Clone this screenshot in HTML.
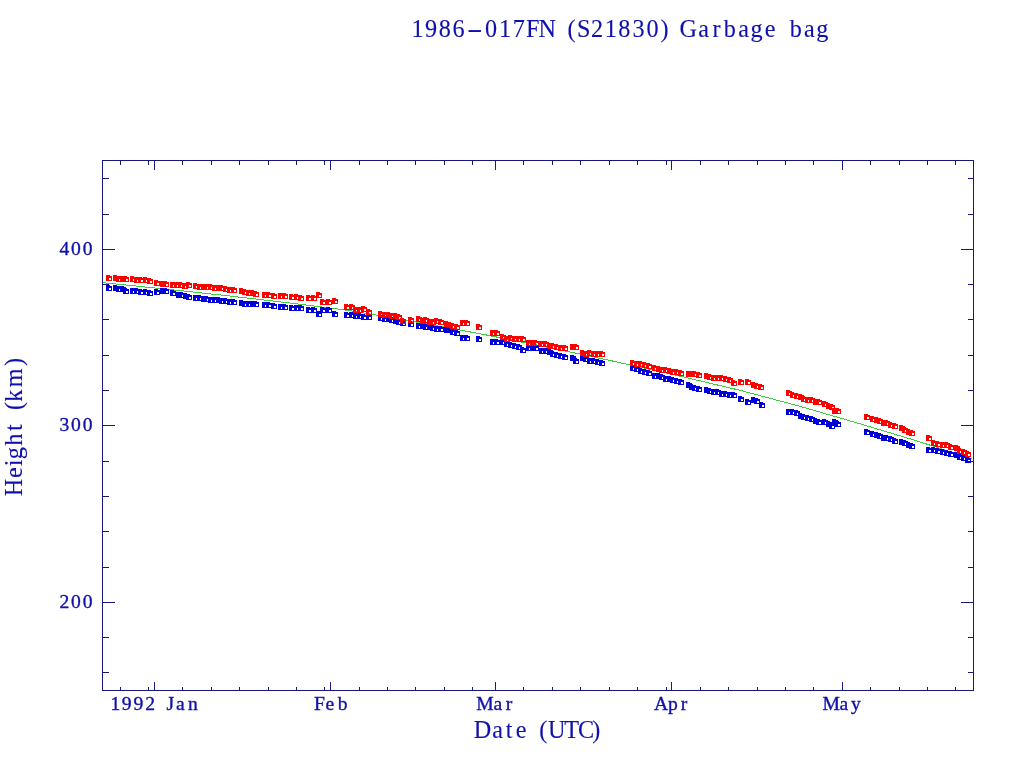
<!DOCTYPE html>
<html lang="en"><head><meta charset="utf-8"><title>1986-017FN (S21830) Garbage bag</title>
<style>html,body{margin:0;padding:0;background:#fff}svg{display:block}</style></head>
<body>
<svg width="1024" height="768" viewBox="0 0 1024 768">
<rect width="1024" height="768" fill="#fff"/>
<polyline shape-rendering="crispEdges" fill="none" stroke="#3ccd3c" stroke-width="1" points="102.0,282.6 165.0,289.0 228.0,295.8 290.0,303.0 344.0,309.8 373.5,314.5 430.0,324.5 484.0,334.5 548.0,347.3 612.0,360.9 676.0,375.2 740.0,390.3 800.0,406.3 860.0,423.8 916.0,440.6 972.0,458.8"/>
<path shape-rendering="crispEdges" fill="#0000d8" d="M106 285h4v1h2v5h-6zm3 3v2h2v-2zM113 285h4v1h2v5h-6zm3 3v2h2v-2zM116 286h4v1h2v5h-6zm3 3v2h2v-2zM120 286h4v1h2v5h-6zm3 3v2h2v-2zM123 288h4v1h2v5h-6zm3 3v2h2v-2zM130 288h4v1h2v5h-6zm3 3v2h2v-2zM134 288h4v1h2v5h-6zm3 3v2h2v-2zM138 289h4v1h2v5h-6zm3 3v2h2v-2zM143 289h4v1h2v5h-6zm3 3v2h2v-2zM147 290h4v1h2v5h-6zm3 3v2h2v-2zM154 289h4v1h2v5h-6zm3 3v2h2v-2zM160 288h4v1h2v5h-6zm3 3v2h2v-2zM163 288h4v1h2v5h-6zm3 3v2h2v-2zM170 290h4v1h2v5h-6zm3 3v2h2v-2zM176 292h4v1h2v5h-6zm3 3v2h2v-2zM179 292h4v1h2v5h-6zm3 3v2h2v-2zM183 293h4v1h2v5h-6zm3 3v2h2v-2zM186 294h4v1h2v5h-6zm3 3v2h2v-2zM193 295h4v1h2v5h-6zm3 3v2h2v-2zM197 295h4v1h2v5h-6zm3 3v2h2v-2zM201 296h4v1h2v5h-6zm3 3v2h2v-2zM204 296h4v1h2v5h-6zm3 3v2h2v-2zM208 297h4v1h2v5h-6zm3 3v2h2v-2zM212 297h4v1h2v5h-6zm3 3v2h2v-2zM216 297h4v1h2v5h-6zm3 3v2h2v-2zM219 298h4v1h2v5h-6zm3 3v2h2v-2zM223 298h4v1h2v5h-6zm3 3v2h2v-2zM227 299h4v1h2v5h-6zm3 3v2h2v-2zM231 299h4v1h2v5h-6zm3 3v2h2v-2zM239 300h4v1h2v5h-6zm3 3v2h2v-2zM242 301h4v1h2v5h-6zm3 3v2h2v-2zM246 301h4v1h2v5h-6zm3 3v2h2v-2zM250 301h4v1h2v5h-6zm3 3v2h2v-2zM253 301h4v1h2v5h-6zm3 3v2h2v-2zM262 302h4v1h2v5h-6zm3 3v2h2v-2zM266 302h4v1h2v5h-6zm3 3v2h2v-2zM271 303h4v1h2v5h-6zm3 3v2h2v-2zM278 304h4v1h2v5h-6zm3 3v2h2v-2zM282 304h4v1h2v5h-6zm3 3v2h2v-2zM289 305h4v1h2v5h-6zm3 3v2h2v-2zM294 305h4v1h2v5h-6zm3 3v2h2v-2zM298 305h4v1h2v5h-6zm3 3v2h2v-2zM306 307h4v1h2v5h-6zm3 3v2h2v-2zM311 307h4v1h2v5h-6zm3 3v2h2v-2zM316 311h4v1h2v5h-6zm3 3v2h2v-2zM320 307h4v1h2v5h-6zm3 3v2h2v-2zM326 307h4v1h2v5h-6zm3 3v2h2v-2zM332 311h4v1h2v5h-6zm3 3v2h2v-2zM344 312h4v1h2v5h-6zm3 3v2h2v-2zM349 312h4v1h2v5h-6zm3 3v2h2v-2zM353 313h4v1h2v5h-6zm3 3v2h2v-2zM357 313h4v1h2v5h-6zm3 3v2h2v-2zM361 314h4v1h2v5h-6zm3 3v2h2v-2zM366 314h4v1h2v5h-6zm3 3v2h2v-2zM378 315h4v1h2v5h-6zm3 3v2h2v-2zM382 316h4v1h2v5h-6zm3 3v2h2v-2zM386 316h4v1h2v5h-6zm3 3v2h2v-2zM389 317h4v1h2v5h-6zm3 3v2h2v-2zM393 318h4v1h2v5h-6zm3 3v2h2v-2zM396 319h4v1h2v5h-6zm3 3v2h2v-2zM400 320h4v1h2v5h-6zm3 3v2h2v-2zM408 321h4v1h2v5h-6zm3 3v2h2v-2zM416 323h4v1h2v5h-6zm3 3v2h2v-2zM420 323h4v1h2v5h-6zm3 3v2h2v-2zM423 324h4v1h2v5h-6zm3 3v2h2v-2zM427 324h4v1h2v5h-6zm3 3v2h2v-2zM430 325h4v1h2v5h-6zm3 3v2h2v-2zM434 326h4v1h2v5h-6zm3 3v2h2v-2zM438 326h4v1h2v5h-6zm3 3v2h2v-2zM444 327h4v1h2v5h-6zm3 3v2h2v-2zM447 327h4v1h2v5h-6zm3 3v2h2v-2zM450 329h4v1h2v5h-6zm3 3v2h2v-2zM454 330h4v1h2v5h-6zm3 3v2h2v-2zM460 335h4v1h2v5h-6zm3 3v2h2v-2zM464 335h4v1h2v5h-6zm3 3v2h2v-2zM476 336h4v1h2v5h-6zm3 3v2h2v-2zM490 339h4v1h2v5h-6zm3 3v2h2v-2zM494 339h4v1h2v5h-6zm3 3v2h2v-2zM500 339h4v1h2v5h-6zm3 3v2h2v-2zM504 341h4v1h2v5h-6zm3 3v2h2v-2zM508 342h4v1h2v5h-6zm3 3v2h2v-2zM512 343h4v1h2v5h-6zm3 3v2h2v-2zM516 344h4v1h2v5h-6zm3 3v2h2v-2zM520 347h4v1h2v5h-6zm3 3v2h2v-2zM526 345h4v1h2v5h-6zm3 3v2h2v-2zM530 345h4v1h2v5h-6zm3 3v2h2v-2zM533 345h4v1h2v5h-6zm3 3v2h2v-2zM539 348h4v1h2v5h-6zm3 3v2h2v-2zM543 348h4v1h2v5h-6zm3 3v2h2v-2zM547 349h4v1h2v5h-6zm3 3v2h2v-2zM550 351h4v1h2v5h-6zm3 3v2h2v-2zM554 352h4v1h2v5h-6zm3 3v2h2v-2zM558 353h4v1h2v5h-6zm3 3v2h2v-2zM562 354h4v1h2v5h-6zm3 3v2h2v-2zM570 355h4v1h2v5h-6zm3 3v2h2v-2zM573 358h4v1h2v5h-6zm3 3v2h2v-2zM580 355h4v1h2v5h-6zm3 3v2h2v-2zM583 356h4v1h2v5h-6zm3 3v2h2v-2zM587 358h4v1h2v5h-6zm3 3v2h2v-2zM591 358h4v1h2v5h-6zm3 3v2h2v-2zM595 359h4v1h2v5h-6zm3 3v2h2v-2zM599 360h4v1h2v5h-6zm3 3v2h2v-2zM630 365h4v1h2v5h-6zm3 3v2h2v-2zM634 366h4v1h2v5h-6zm3 3v2h2v-2zM638 368h4v1h2v5h-6zm3 3v2h2v-2zM642 369h4v1h2v5h-6zm3 3v2h2v-2zM646 370h4v1h2v5h-6zm3 3v2h2v-2zM652 373h4v1h2v5h-6zm3 3v2h2v-2zM656 373h4v1h2v5h-6zm3 3v2h2v-2zM659 374h4v1h2v5h-6zm3 3v2h2v-2zM663 376h4v1h2v5h-6zm3 3v2h2v-2zM667 376h4v1h2v5h-6zm3 3v2h2v-2zM670 377h4v1h2v5h-6zm3 3v2h2v-2zM674 378h4v1h2v5h-6zm3 3v2h2v-2zM678 379h4v1h2v5h-6zm3 3v2h2v-2zM686 382h4v1h2v5h-6zm3 3v2h2v-2zM689 384h4v1h2v5h-6zm3 3v2h2v-2zM692 385h4v1h2v5h-6zm3 3v2h2v-2zM696 386h4v1h2v5h-6zm3 3v2h2v-2zM704 387h4v1h2v5h-6zm3 3v2h2v-2zM707 388h4v1h2v5h-6zm3 3v2h2v-2zM711 389h4v1h2v5h-6zm3 3v2h2v-2zM715 389h4v1h2v5h-6zm3 3v2h2v-2zM719 391h4v1h2v5h-6zm3 3v2h2v-2zM723 391h4v1h2v5h-6zm3 3v2h2v-2zM727 392h4v1h2v5h-6zm3 3v2h2v-2zM731 392h4v1h2v5h-6zm3 3v2h2v-2zM738 396h4v1h2v5h-6zm3 3v2h2v-2zM745 399h4v1h2v5h-6zm3 3v2h2v-2zM751 397h4v1h2v5h-6zm3 3v2h2v-2zM754 398h4v1h2v5h-6zm3 3v2h2v-2zM759 402h4v1h2v5h-6zm3 3v2h2v-2zM786 409h4v1h2v5h-6zm3 3v2h2v-2zM790 409h4v1h2v5h-6zm3 3v2h2v-2zM794 410h4v1h2v5h-6zm3 3v2h2v-2zM798 413h4v1h2v5h-6zm3 3v2h2v-2zM801 414h4v1h2v5h-6zm3 3v2h2v-2zM805 415h4v1h2v5h-6zm3 3v2h2v-2zM809 416h4v1h2v5h-6zm3 3v2h2v-2zM813 418h4v1h2v5h-6zm3 3v2h2v-2zM816 419h4v1h2v5h-6zm3 3v2h2v-2zM822 419h4v1h2v5h-6zm3 3v2h2v-2zM826 421h4v1h2v5h-6zm3 3v2h2v-2zM829 423h4v1h2v5h-6zm3 3v2h2v-2zM832 419h4v1h2v5h-6zm3 3v2h2v-2zM835 421h4v1h2v5h-6zm3 3v2h2v-2zM864 429h4v1h2v5h-6zm3 3v2h2v-2zM870 431h4v1h2v5h-6zm3 3v2h2v-2zM874 432h4v1h2v5h-6zm3 3v2h2v-2zM877 433h4v1h2v5h-6zm3 3v2h2v-2zM881 435h4v1h2v5h-6zm3 3v2h2v-2zM884 435h4v1h2v5h-6zm3 3v2h2v-2zM888 436h4v1h2v5h-6zm3 3v2h2v-2zM892 438h4v1h2v5h-6zm3 3v2h2v-2zM899 439h4v1h2v5h-6zm3 3v2h2v-2zM902 440h4v1h2v5h-6zm3 3v2h2v-2zM906 442h4v1h2v5h-6zm3 3v2h2v-2zM909 443h4v1h2v5h-6zm3 3v2h2v-2zM926 447h4v1h2v5h-6zm3 3v2h2v-2zM931 447h4v1h2v5h-6zm3 3v2h2v-2zM935 448h4v1h2v5h-6zm3 3v2h2v-2zM940 449h4v1h2v5h-6zm3 3v2h2v-2zM944 450h4v1h2v5h-6zm3 3v2h2v-2zM948 451h4v1h2v5h-6zm3 3v2h2v-2zM954 452h4v1h2v5h-6zm3 3v2h2v-2zM957 454h4v1h2v5h-6zm3 3v2h2v-2zM961 455h4v1h2v5h-6zm3 3v2h2v-2zM965 457h4v1h2v5h-6zm3 3v2h2v-2z"/>
<path shape-rendering="crispEdges" fill="#ff0000" d="M106 275h4v1h2v5h-6zm3 3v2h2v-2zM113 275h4v1h2v5h-6zm3 3v2h2v-2zM116 276h4v1h2v5h-6zm3 3v2h2v-2zM120 276h4v1h2v5h-6zm3 3v2h2v-2zM123 276h4v1h2v5h-6zm3 3v2h2v-2zM130 276h4v1h2v5h-6zm3 3v2h2v-2zM134 277h4v1h2v5h-6zm3 3v2h2v-2zM138 277h4v1h2v5h-6zm3 3v2h2v-2zM143 277h4v1h2v5h-6zm3 3v2h2v-2zM147 278h4v1h2v5h-6zm3 3v2h2v-2zM154 280h4v1h2v5h-6zm3 3v2h2v-2zM160 281h4v1h2v5h-6zm3 3v2h2v-2zM163 281h4v1h2v5h-6zm3 3v2h2v-2zM170 282h4v1h2v5h-6zm3 3v2h2v-2zM174 282h4v1h2v5h-6zm3 3v2h2v-2zM178 282h4v1h2v5h-6zm3 3v2h2v-2zM182 283h4v1h2v5h-6zm3 3v2h2v-2zM186 282h4v1h2v5h-6zm3 3v2h2v-2zM193 283h4v1h2v5h-6zm3 3v2h2v-2zM197 284h4v1h2v5h-6zm3 3v2h2v-2zM201 284h4v1h2v5h-6zm3 3v2h2v-2zM204 284h4v1h2v5h-6zm3 3v2h2v-2zM208 284h4v1h2v5h-6zm3 3v2h2v-2zM212 285h4v1h2v5h-6zm3 3v2h2v-2zM216 285h4v1h2v5h-6zm3 3v2h2v-2zM219 285h4v1h2v5h-6zm3 3v2h2v-2zM223 286h4v1h2v5h-6zm3 3v2h2v-2zM227 287h4v1h2v5h-6zm3 3v2h2v-2zM231 287h4v1h2v5h-6zm3 3v2h2v-2zM239 288h4v1h2v5h-6zm3 3v2h2v-2zM242 289h4v1h2v5h-6zm3 3v2h2v-2zM246 290h4v1h2v5h-6zm3 3v2h2v-2zM250 290h4v1h2v5h-6zm3 3v2h2v-2zM253 291h4v1h2v5h-6zm3 3v2h2v-2zM262 292h4v1h2v5h-6zm3 3v2h2v-2zM266 292h4v1h2v5h-6zm3 3v2h2v-2zM271 293h4v1h2v5h-6zm3 3v2h2v-2zM278 293h4v1h2v5h-6zm3 3v2h2v-2zM282 293h4v1h2v5h-6zm3 3v2h2v-2zM289 294h4v1h2v5h-6zm3 3v2h2v-2zM294 294h4v1h2v5h-6zm3 3v2h2v-2zM298 295h4v1h2v5h-6zm3 3v2h2v-2zM306 295h4v1h2v5h-6zm3 3v2h2v-2zM311 295h4v1h2v5h-6zm3 3v2h2v-2zM316 292h4v1h2v5h-6zm3 3v2h2v-2zM320 299h4v1h2v5h-6zm3 3v2h2v-2zM326 299h4v1h2v5h-6zm3 3v2h2v-2zM332 298h4v1h2v5h-6zm3 3v2h2v-2zM344 304h4v1h2v5h-6zm3 3v2h2v-2zM349 304h4v1h2v5h-6zm3 3v2h2v-2zM353 307h4v1h2v5h-6zm3 3v2h2v-2zM357 307h4v1h2v5h-6zm3 3v2h2v-2zM361 306h4v1h2v5h-6zm3 3v2h2v-2zM366 309h4v1h2v5h-6zm3 3v2h2v-2zM378 311h4v1h2v5h-6zm3 3v2h2v-2zM382 312h4v1h2v5h-6zm3 3v2h2v-2zM386 312h4v1h2v5h-6zm3 3v2h2v-2zM389 313h4v1h2v5h-6zm3 3v2h2v-2zM393 313h4v1h2v5h-6zm3 3v2h2v-2zM396 314h4v1h2v5h-6zm3 3v2h2v-2zM400 318h4v1h2v5h-6zm3 3v2h2v-2zM408 317h4v1h2v5h-6zm3 3v2h2v-2zM416 316h4v1h2v5h-6zm3 3v2h2v-2zM420 318h4v1h2v5h-6zm3 3v2h2v-2zM423 317h4v1h2v5h-6zm3 3v2h2v-2zM427 319h4v1h2v5h-6zm3 3v2h2v-2zM430 319h4v1h2v5h-6zm3 3v2h2v-2zM434 318h4v1h2v5h-6zm3 3v2h2v-2zM438 319h4v1h2v5h-6zm3 3v2h2v-2zM444 321h4v1h2v5h-6zm3 3v2h2v-2zM447 322h4v1h2v5h-6zm3 3v2h2v-2zM450 323h4v1h2v5h-6zm3 3v2h2v-2zM454 324h4v1h2v5h-6zm3 3v2h2v-2zM460 320h4v1h2v5h-6zm3 3v2h2v-2zM464 320h4v1h2v5h-6zm3 3v2h2v-2zM476 324h4v1h2v5h-6zm3 3v2h2v-2zM490 330h4v1h2v5h-6zm3 3v2h2v-2zM494 330h4v1h2v5h-6zm3 3v2h2v-2zM500 334h4v1h2v5h-6zm3 3v2h2v-2zM504 336h4v1h2v5h-6zm3 3v2h2v-2zM508 335h4v1h2v5h-6zm3 3v2h2v-2zM512 336h4v1h2v5h-6zm3 3v2h2v-2zM516 336h4v1h2v5h-6zm3 3v2h2v-2zM520 336h4v1h2v5h-6zm3 3v2h2v-2zM526 340h4v1h2v5h-6zm3 3v2h2v-2zM530 340h4v1h2v5h-6zm3 3v2h2v-2zM533 340h4v1h2v5h-6zm3 3v2h2v-2zM539 341h4v1h2v5h-6zm3 3v2h2v-2zM543 341h4v1h2v5h-6zm3 3v2h2v-2zM547 343h4v1h2v5h-6zm3 3v2h2v-2zM550 343h4v1h2v5h-6zm3 3v2h2v-2zM554 344h4v1h2v5h-6zm3 3v2h2v-2zM558 345h4v1h2v5h-6zm3 3v2h2v-2zM562 345h4v1h2v5h-6zm3 3v2h2v-2zM570 344h4v1h2v5h-6zm3 3v2h2v-2zM573 344h4v1h2v5h-6zm3 3v2h2v-2zM580 350h4v1h2v5h-6zm3 3v2h2v-2zM583 351h4v1h2v5h-6zm3 3v2h2v-2zM587 350h4v1h2v5h-6zm3 3v2h2v-2zM591 351h4v1h2v5h-6zm3 3v2h2v-2zM595 351h4v1h2v5h-6zm3 3v2h2v-2zM599 351h4v1h2v5h-6zm3 3v2h2v-2zM630 360h4v1h2v5h-6zm3 3v2h2v-2zM634 361h4v1h2v5h-6zm3 3v2h2v-2zM638 361h4v1h2v5h-6zm3 3v2h2v-2zM642 362h4v1h2v5h-6zm3 3v2h2v-2zM646 363h4v1h2v5h-6zm3 3v2h2v-2zM652 365h4v1h2v5h-6zm3 3v2h2v-2zM656 366h4v1h2v5h-6zm3 3v2h2v-2zM659 367h4v1h2v5h-6zm3 3v2h2v-2zM663 367h4v1h2v5h-6zm3 3v2h2v-2zM667 368h4v1h2v5h-6zm3 3v2h2v-2zM670 369h4v1h2v5h-6zm3 3v2h2v-2zM674 369h4v1h2v5h-6zm3 3v2h2v-2zM678 370h4v1h2v5h-6zm3 3v2h2v-2zM686 371h4v1h2v5h-6zm3 3v2h2v-2zM689 371h4v1h2v5h-6zm3 3v2h2v-2zM692 371h4v1h2v5h-6zm3 3v2h2v-2zM696 372h4v1h2v5h-6zm3 3v2h2v-2zM704 373h4v1h2v5h-6zm3 3v2h2v-2zM707 374h4v1h2v5h-6zm3 3v2h2v-2zM711 375h4v1h2v5h-6zm3 3v2h2v-2zM715 375h4v1h2v5h-6zm3 3v2h2v-2zM719 375h4v1h2v5h-6zm3 3v2h2v-2zM723 376h4v1h2v5h-6zm3 3v2h2v-2zM727 377h4v1h2v5h-6zm3 3v2h2v-2zM731 380h4v1h2v5h-6zm3 3v2h2v-2zM738 379h4v1h2v5h-6zm3 3v2h2v-2zM745 379h4v1h2v5h-6zm3 3v2h2v-2zM751 382h4v1h2v5h-6zm3 3v2h2v-2zM754 383h4v1h2v5h-6zm3 3v2h2v-2zM758 384h4v1h2v5h-6zm3 3v2h2v-2zM786 390h4v1h2v5h-6zm3 3v2h2v-2zM790 392h4v1h2v5h-6zm3 3v2h2v-2zM794 393h4v1h2v5h-6zm3 3v2h2v-2zM798 394h4v1h2v5h-6zm3 3v2h2v-2zM801 396h4v1h2v5h-6zm3 3v2h2v-2zM805 397h4v1h2v5h-6zm3 3v2h2v-2zM809 397h4v1h2v5h-6zm3 3v2h2v-2zM813 399h4v1h2v5h-6zm3 3v2h2v-2zM816 399h4v1h2v5h-6zm3 3v2h2v-2zM822 401h4v1h2v5h-6zm3 3v2h2v-2zM826 403h4v1h2v5h-6zm3 3v2h2v-2zM829 404h4v1h2v5h-6zm3 3v2h2v-2zM832 408h4v1h2v5h-6zm3 3v2h2v-2zM835 408h4v1h2v5h-6zm3 3v2h2v-2zM864 414h4v1h2v5h-6zm3 3v2h2v-2zM870 416h4v1h2v5h-6zm3 3v2h2v-2zM874 417h4v1h2v5h-6zm3 3v2h2v-2zM877 418h4v1h2v5h-6zm3 3v2h2v-2zM881 420h4v1h2v5h-6zm3 3v2h2v-2zM884 420h4v1h2v5h-6zm3 3v2h2v-2zM888 422h4v1h2v5h-6zm3 3v2h2v-2zM892 423h4v1h2v5h-6zm3 3v2h2v-2zM899 425h4v1h2v5h-6zm3 3v2h2v-2zM902 427h4v1h2v5h-6zm3 3v2h2v-2zM906 429h4v1h2v5h-6zm3 3v2h2v-2zM909 430h4v1h2v5h-6zm3 3v2h2v-2zM926 435h4v1h2v5h-6zm3 3v2h2v-2zM931 440h4v1h2v5h-6zm3 3v2h2v-2zM935 441h4v1h2v5h-6zm3 3v2h2v-2zM940 442h4v1h2v5h-6zm3 3v2h2v-2zM944 442h4v1h2v5h-6zm3 3v2h2v-2zM948 444h4v1h2v5h-6zm3 3v2h2v-2zM954 445h4v1h2v5h-6zm3 3v2h2v-2zM957 448h4v1h2v5h-6zm3 3v2h2v-2zM961 449h4v1h2v5h-6zm3 3v2h2v-2zM965 451h4v1h2v5h-6zm3 3v2h2v-2z"/>
<path shape-rendering="crispEdges" fill="none" stroke="#18187c" stroke-width="1" d="M102.5 160.5H973.5V690.5H102.5zM102.5 672.5h6.5M973.5 672.5h-5.5M102.5 637.5h6.5M973.5 637.5h-5.5M102.5 602.5h12.5M973.5 602.5h-12.5M102.5 567.5h6.5M973.5 567.5h-5.5M102.5 531.5h6.5M973.5 531.5h-5.5M102.5 496.5h6.5M973.5 496.5h-5.5M102.5 461.5h6.5M973.5 461.5h-5.5M102.5 425.5h12.5M973.5 425.5h-12.5M102.5 390.5h6.5M973.5 390.5h-5.5M102.5 355.5h6.5M973.5 355.5h-5.5M102.5 319.5h6.5M973.5 319.5h-5.5M102.5 284.5h6.5M973.5 284.5h-5.5M102.5 249.5h12.5M973.5 249.5h-12.5M102.5 214.5h6.5M973.5 214.5h-5.5M102.5 178.5h6.5M973.5 178.5h-5.5M120.5 690.5v-3.5M120.5 160.5v4.5M148.5 690.5v-3.5M148.5 160.5v4.5M154.5 690.5v-8.5M154.5 160.5v9.5M182.5 690.5v-3.5M182.5 160.5v4.5M211.5 690.5v-3.5M211.5 160.5v4.5M239.5 690.5v-3.5M239.5 160.5v4.5M268.5 690.5v-3.5M268.5 160.5v4.5M296.5 690.5v-3.5M296.5 160.5v4.5M324.5 690.5v-3.5M324.5 160.5v4.5M330.5 690.5v-8.5M330.5 160.5v9.5M359.5 690.5v-3.5M359.5 160.5v4.5M387.5 690.5v-3.5M387.5 160.5v4.5M415.5 690.5v-3.5M415.5 160.5v4.5M444.5 690.5v-3.5M444.5 160.5v4.5M472.5 690.5v-3.5M472.5 160.5v4.5M495.5 690.5v-8.5M495.5 160.5v9.5M523.5 690.5v-3.5M523.5 160.5v4.5M552.5 690.5v-3.5M552.5 160.5v4.5M580.5 690.5v-3.5M580.5 160.5v4.5M609.5 690.5v-3.5M609.5 160.5v4.5M637.5 690.5v-3.5M637.5 160.5v4.5M666.5 690.5v-3.5M666.5 160.5v4.5M671.5 690.5v-8.5M671.5 160.5v9.5M700.5 690.5v-3.5M700.5 160.5v4.5M728.5 690.5v-3.5M728.5 160.5v4.5M757.5 690.5v-3.5M757.5 160.5v4.5M785.5 690.5v-3.5M785.5 160.5v4.5M813.5 690.5v-3.5M813.5 160.5v4.5M842.5 690.5v-8.5M842.5 160.5v9.5M870.5 690.5v-3.5M870.5 160.5v4.5M899.5 690.5v-3.5M899.5 160.5v4.5M927.5 690.5v-3.5M927.5 160.5v4.5M955.5 690.5v-3.5M955.5 160.5v4.5"/>
<g font-family="'Liberation Serif', serif" fill="#1010ac" stroke="#1010ac">
<text xml:space="preserve" x="411.4 424.9 438.8 452.4 470.7 484.9 498.9 512.8 525.9 538.4 555.9 567.4 576.9 591.0 604.8 618.2 632.6 646.5 660.4 668.5 679.6 698.2 712.5 723.8 738.3 750.5 764.7 775.4 789.8 804.1 816.3" y="37.0" font-size="24.2" stroke-width="0.12">1986<tspan x="466.9" textLength="15.6" lengthAdjust="spacingAndGlyphs">-</tspan>017FN (S21830) Garbage bag</text>
<text xml:space="preserve" x="473.7 492.3 505.8 515.7 526.4 539.2 548.0 564.2 578.0 592.3" y="738.3" font-size="24.2" stroke-width="0.12">Date (UTC)</text>
<text xml:space="preserve" transform="translate(21.5,0) rotate(-90)" x="-496.2 -478.0 -466.2 -459.3 -445.8 -431.0 -424.3 -409.9 -401.7 -387.3 -366.1" y="0" font-size="24.2" stroke-width="0.12">Height (km)</text>
<text xml:space="preserve" x="59.5 71.1 82.8" y="255.0" font-size="19.6" stroke-width="0.35">400</text>
<text xml:space="preserve" x="59.4 71.1 82.8" y="431.0" font-size="19.6" stroke-width="0.35">300</text>
<text xml:space="preserve" x="59.6 71.1 82.8" y="608.0" font-size="19.6" stroke-width="0.35">200</text>
<text xml:space="preserve" x="110.4 121.7 133.4 145.3 155.1 166.4 176.1 187.9" y="710.0" font-size="19.6" stroke-width="0.35">1992 Jan</text>
<text xml:space="preserve" x="313.9 325.6 337.7" y="710.0" font-size="19.6" stroke-width="0.35">Feb</text>
<text xml:space="preserve" x="476.3 493.5 505.7" y="710.0" font-size="19.6" stroke-width="0.35">Mar</text>
<text xml:space="preserve" x="653.9 668.0 680.8" y="710.0" font-size="19.6" stroke-width="0.35">Apr</text>
<text xml:space="preserve" x="822.4 839.6 851.1" y="710.0" font-size="19.6" stroke-width="0.35">May</text>
</g>
</svg>
</body></html>
